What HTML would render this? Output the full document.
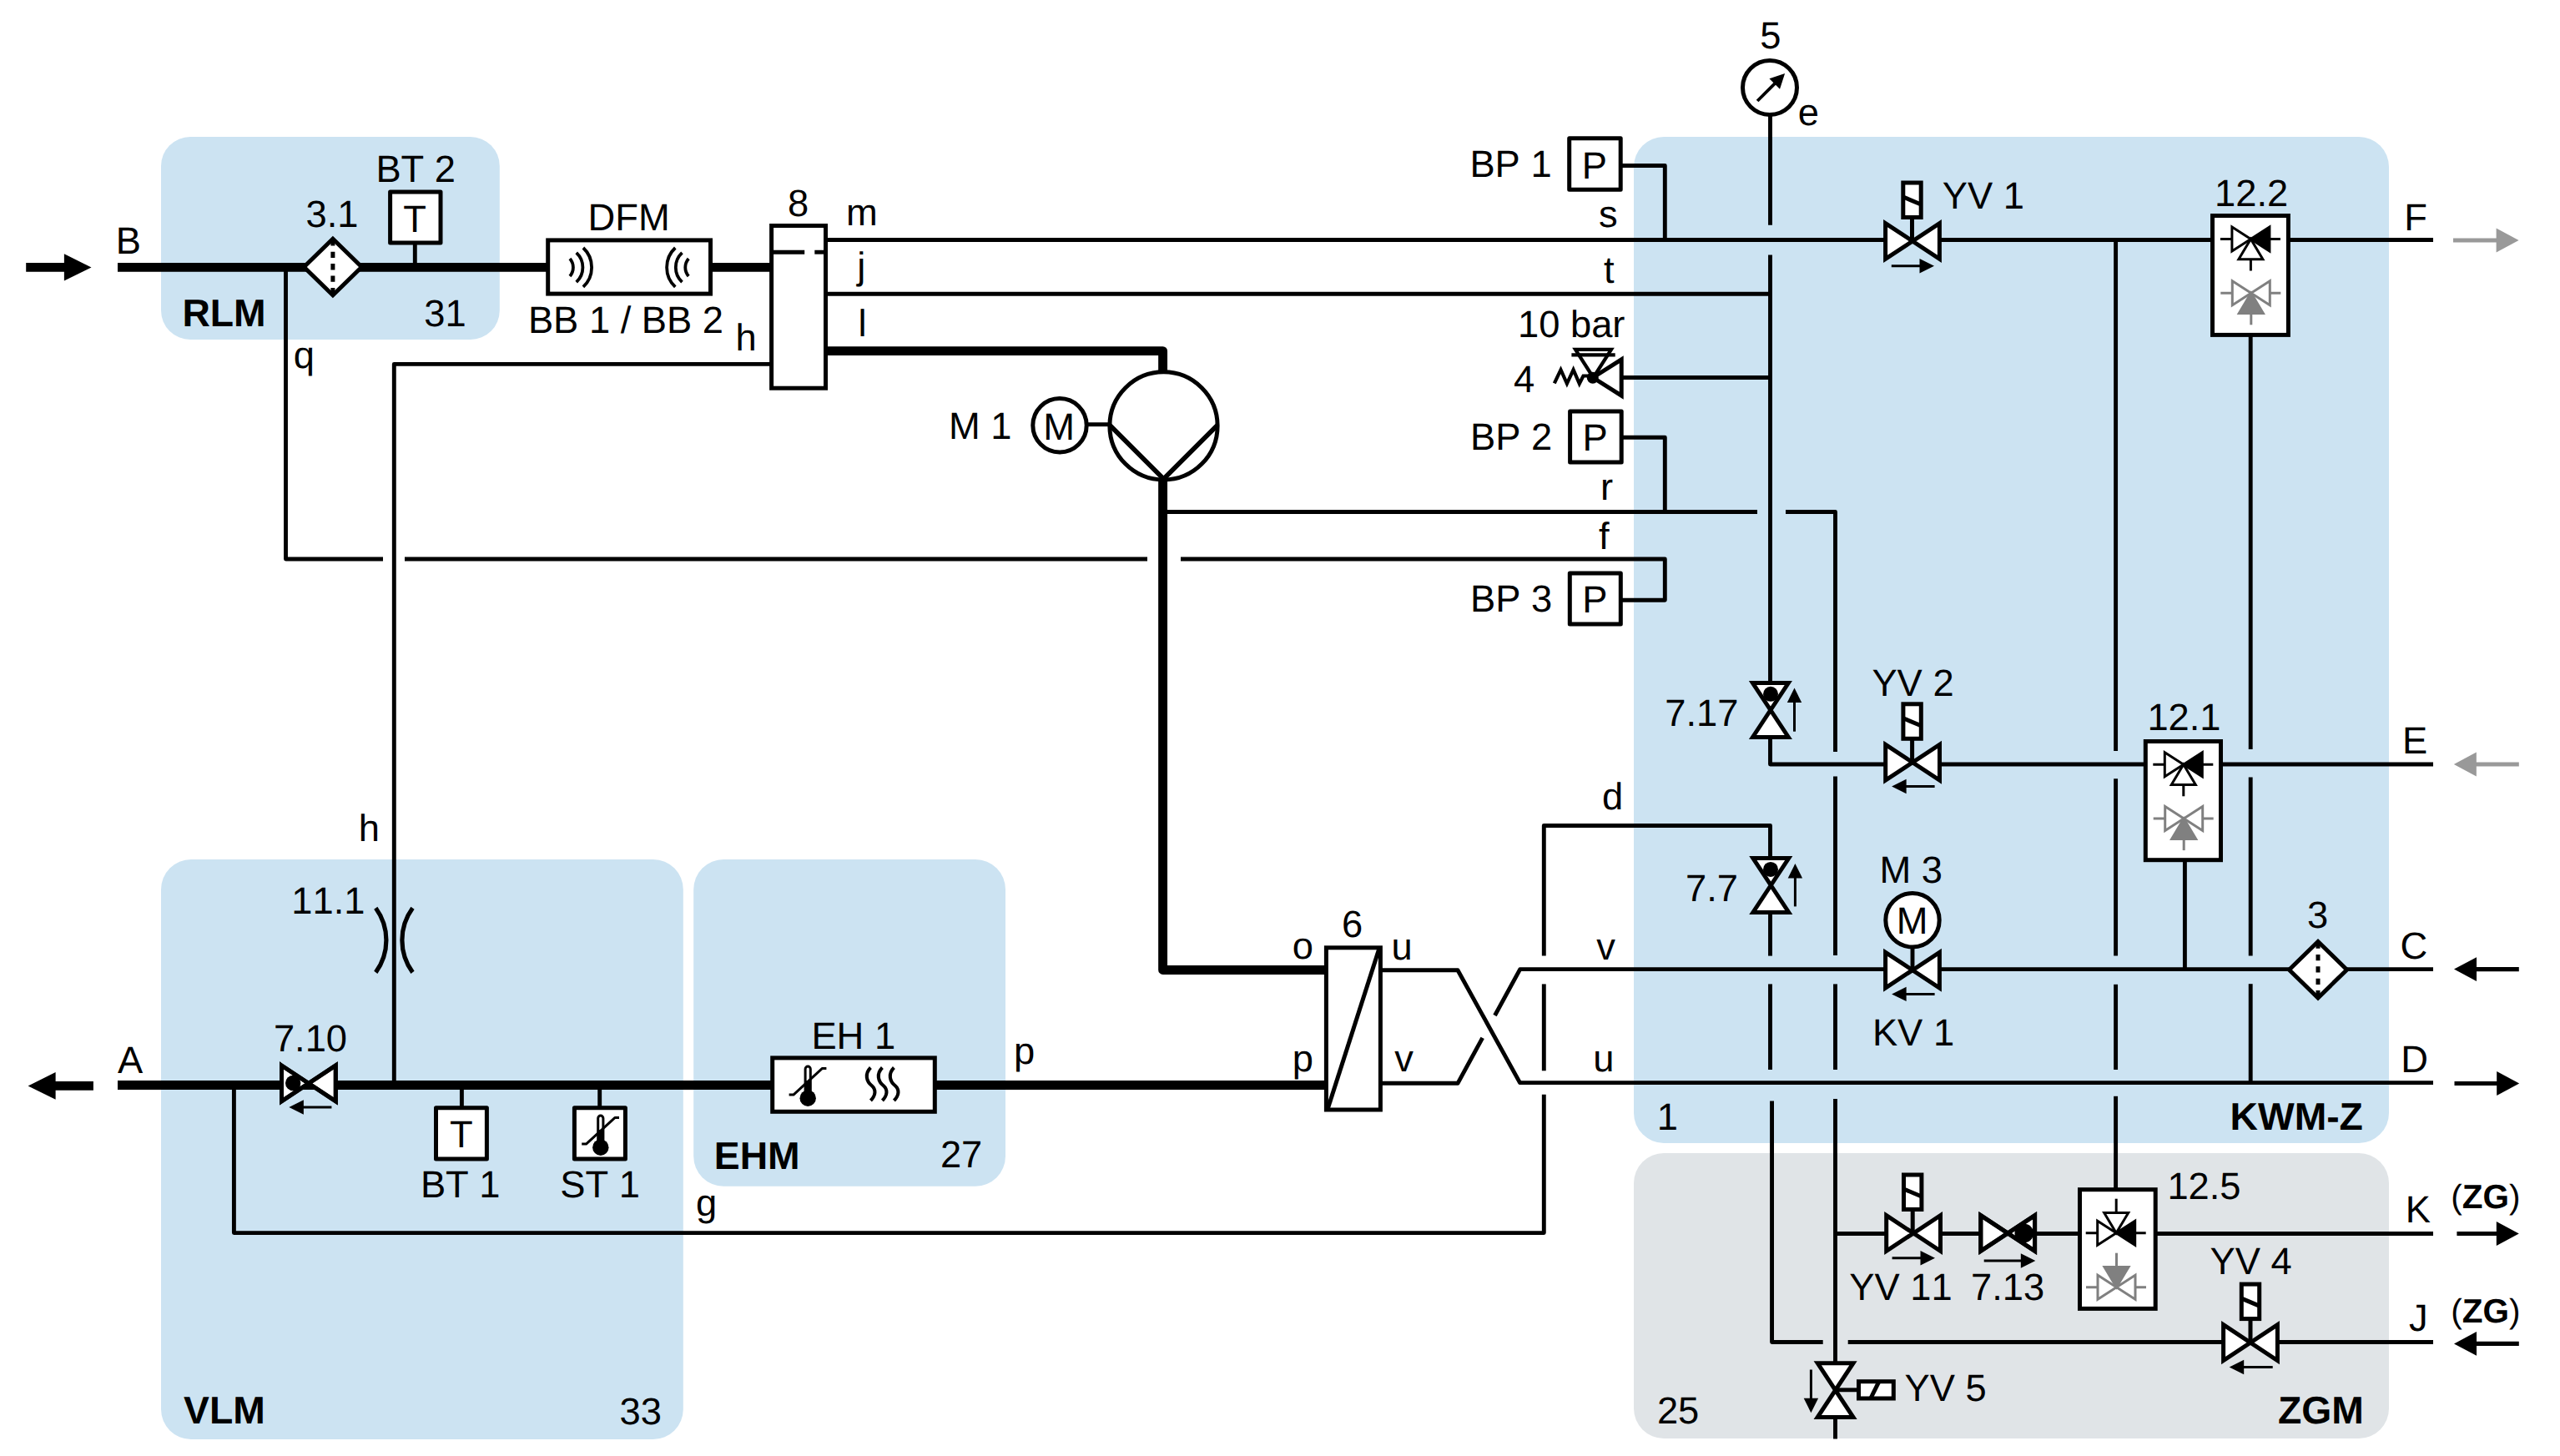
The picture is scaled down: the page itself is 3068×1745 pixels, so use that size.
<!DOCTYPE html>
<html lang="de">
<head>
<meta charset="utf-8">
<title>Hydraulikschema</title>
<style>
html,body{margin:0;padding:0;background:#fff;}
body{width:3068px;height:1745px;overflow:hidden;}
svg{display:block;}
svg text{font-family:"Liberation Sans",sans-serif;fill:#000;font-kerning:none;text-rendering:geometricPrecision;}
</style>
</head>
<body>
<svg width="3068" height="1745" viewBox="0 0 3068 1745">
<rect width="3068" height="1745" fill="#fff"/>
<rect x="193" y="164" width="405.8" height="243" rx="35" ry="35" fill="#cce3f2"/>
<rect x="193" y="1030" width="625.8" height="695" rx="36" ry="36" fill="#cce3f2"/>
<rect x="831.2" y="1030" width="373.8" height="391.8" rx="36" ry="36" fill="#cce3f2"/>
<rect x="1958" y="164" width="905" height="1205.9" rx="36" ry="36" fill="#cce3f2"/>
<rect x="1958" y="1382" width="905" height="342" rx="36" ry="36" fill="#e0e4e7"/>
<path d="M141 320.4 L656 320.4" fill="none" stroke="#000" stroke-width="10.9" stroke-linejoin="round" stroke-linecap="butt"/>
<path d="M852 320.4 L924 320.4" fill="none" stroke="#000" stroke-width="10.9" stroke-linejoin="round" stroke-linecap="butt"/>
<path d="M990 420.6 L1393.6 420.6 L1393.6 446" fill="none" stroke="#000" stroke-width="10.9" stroke-linejoin="round" stroke-linecap="butt"/>
<path d="M1393.6 574 L1393.6 1162.5 L1589 1162.5" fill="none" stroke="#000" stroke-width="10.9" stroke-linejoin="round" stroke-linecap="butt"/>
<path d="M1120 1300.5 L1589 1300.5" fill="none" stroke="#000" stroke-width="10.9" stroke-linejoin="round" stroke-linecap="butt"/>
<path d="M141 1300.5 L925 1300.5" fill="none" stroke="#000" stroke-width="10.9" stroke-linejoin="round" stroke-linecap="butt"/>
<path d="M31.2 320.4 L78 320.4" fill="none" stroke="#000" stroke-width="10.7" stroke-linejoin="round" stroke-linecap="butt"/>
<path d="M109.5 320.4 L76.9 304.2 L76.9 336.6 Z" fill="#000"/>
<path d="M111.9 1301.4 L66 1301.4" fill="none" stroke="#000" stroke-width="10.9" stroke-linejoin="round" stroke-linecap="butt"/>
<path d="M33.6 1301.4 L66.6 1285 L66.6 1317.8 Z" fill="#000"/>
<path d="M342.5 320.4 L342.5 670 L459 670" fill="none" stroke="#000" stroke-width="4.9" stroke-linejoin="round" stroke-linecap="butt"/>
<path d="M485 670 L1375 670" fill="none" stroke="#000" stroke-width="4.9" stroke-linejoin="round" stroke-linecap="butt"/>
<path d="M1415 670 L1995.3 670 L1995.3 719.2 L1943 719.2" fill="none" stroke="#000" stroke-width="4.9" stroke-linejoin="round" stroke-linecap="butt"/>
<path d="M924 436.4 L472.3 436.4 L472.3 1300.5" fill="none" stroke="#000" stroke-width="4.9" stroke-linejoin="round" stroke-linecap="butt"/>
<path d="M990 287.5 L2260 287.5" fill="none" stroke="#000" stroke-width="4.9" stroke-linejoin="round" stroke-linecap="butt"/>
<path d="M2324 287.5 L2651 287.5" fill="none" stroke="#000" stroke-width="4.9" stroke-linejoin="round" stroke-linecap="butt"/>
<path d="M2743 287.5 L2916 287.5" fill="none" stroke="#000" stroke-width="4.9" stroke-linejoin="round" stroke-linecap="butt"/>
<path d="M990 352.3 L2121.5 352.3" fill="none" stroke="#000" stroke-width="4.9" stroke-linejoin="round" stroke-linecap="butt"/>
<path d="M1943 198.5 L1995.3 198.5 L1995.3 287.5" fill="none" stroke="#000" stroke-width="4.9" stroke-linejoin="round" stroke-linecap="butt"/>
<path d="M1943 524.3 L1995.3 524.3 L1995.3 613.5" fill="none" stroke="#000" stroke-width="4.9" stroke-linejoin="round" stroke-linecap="butt"/>
<path d="M2121.5 138 L2121.5 269.7" fill="none" stroke="#000" stroke-width="4.9" stroke-linejoin="round" stroke-linecap="butt"/>
<path d="M2121.5 305.4 L2121.5 820" fill="none" stroke="#000" stroke-width="4.9" stroke-linejoin="round" stroke-linecap="butt"/>
<path d="M1943 452.5 L2121.5 452.5" fill="none" stroke="#000" stroke-width="4.9" stroke-linejoin="round" stroke-linecap="butt"/>
<path d="M1396 613.5 L2106 613.5" fill="none" stroke="#000" stroke-width="4.9" stroke-linejoin="round" stroke-linecap="butt"/>
<path d="M2140 613.5 L2199.5 613.5 L2199.5 901" fill="none" stroke="#000" stroke-width="4.9" stroke-linejoin="round" stroke-linecap="butt"/>
<path d="M2199.5 930.6 L2199.5 1145" fill="none" stroke="#000" stroke-width="4.9" stroke-linejoin="round" stroke-linecap="butt"/>
<path d="M2199.5 1179.4 L2199.5 1282" fill="none" stroke="#000" stroke-width="4.9" stroke-linejoin="round" stroke-linecap="butt"/>
<path d="M2199.5 1317 L2199.5 1636" fill="none" stroke="#000" stroke-width="4.9" stroke-linejoin="round" stroke-linecap="butt"/>
<path d="M2199.5 1697 L2199.5 1724.5" fill="none" stroke="#000" stroke-width="4.9" stroke-linejoin="round" stroke-linecap="butt"/>
<path d="M2121.5 882 L2121.5 916 L2260 916" fill="none" stroke="#000" stroke-width="4.9" stroke-linejoin="round" stroke-linecap="butt"/>
<path d="M2324 916 L2571 916" fill="none" stroke="#000" stroke-width="4.9" stroke-linejoin="round" stroke-linecap="butt"/>
<path d="M2662 916 L2916 916" fill="none" stroke="#000" stroke-width="4.9" stroke-linejoin="round" stroke-linecap="butt"/>
<path d="M2121.5 1030 L2121.5 989.5 L1850.3 989.5 L1850.3 1145.4" fill="none" stroke="#000" stroke-width="4.9" stroke-linejoin="round" stroke-linecap="butt"/>
<path d="M1850.3 1179.4 L1850.3 1283.3" fill="none" stroke="#000" stroke-width="4.9" stroke-linejoin="round" stroke-linecap="butt"/>
<path d="M1850.3 1311.7 L1850.3 1477.6 L280.4 1477.6 L280.4 1300.5" fill="none" stroke="#000" stroke-width="4.9" stroke-linejoin="round" stroke-linecap="butt"/>
<path d="M2121.5 1092 L2121.5 1145.6" fill="none" stroke="#000" stroke-width="4.9" stroke-linejoin="round" stroke-linecap="butt"/>
<path d="M2121.5 1179.4 L2121.5 1282" fill="none" stroke="#000" stroke-width="4.9" stroke-linejoin="round" stroke-linecap="butt"/>
<path d="M2123.55 1319.4 L2123.55 1608.5 L2184.7 1608.5" fill="none" stroke="#000" stroke-width="4.9" stroke-linejoin="round" stroke-linecap="butt"/>
<path d="M2214.7 1608.5 L2665 1608.5" fill="none" stroke="#000" stroke-width="4.9" stroke-linejoin="round" stroke-linecap="butt"/>
<path d="M2729 1608.5 L2916 1608.5" fill="none" stroke="#000" stroke-width="4.9" stroke-linejoin="round" stroke-linecap="butt"/>
<path d="M1655 1162.7 L1747 1162.7 L1821.5 1297.6 L2916 1297.6" fill="none" stroke="#000" stroke-width="4.9" stroke-linejoin="round" stroke-linecap="butt"/>
<path d="M1655 1298.3 L1747 1298.3 L1776.7 1243.9" fill="none" stroke="#000" stroke-width="4.9" stroke-linejoin="round" stroke-linecap="butt"/>
<path d="M1791.5 1217 L1821.7 1161.6 L2260 1161.6" fill="none" stroke="#000" stroke-width="4.9" stroke-linejoin="round" stroke-linecap="butt"/>
<path d="M2324 1161.6 L2744 1161.6" fill="none" stroke="#000" stroke-width="4.9" stroke-linejoin="round" stroke-linecap="butt"/>
<path d="M2812 1161.6 L2916 1161.6" fill="none" stroke="#000" stroke-width="4.9" stroke-linejoin="round" stroke-linecap="butt"/>
<path d="M2199.5 1478.5 L2261 1478.5" fill="none" stroke="#000" stroke-width="4.9" stroke-linejoin="round" stroke-linecap="butt"/>
<path d="M2325 1478.5 L2374 1478.5" fill="none" stroke="#000" stroke-width="4.9" stroke-linejoin="round" stroke-linecap="butt"/>
<path d="M2438 1478.5 L2492 1478.5" fill="none" stroke="#000" stroke-width="4.9" stroke-linejoin="round" stroke-linecap="butt"/>
<path d="M2584 1478.5 L2916 1478.5" fill="none" stroke="#000" stroke-width="4.9" stroke-linejoin="round" stroke-linecap="butt"/>
<path d="M2535.6 287.5 L2535.6 900" fill="none" stroke="#000" stroke-width="4.9" stroke-linejoin="round" stroke-linecap="butt"/>
<path d="M2535.6 933.2 L2535.6 1145.6" fill="none" stroke="#000" stroke-width="4.9" stroke-linejoin="round" stroke-linecap="butt"/>
<path d="M2535.6 1179.8 L2535.6 1282" fill="none" stroke="#000" stroke-width="4.9" stroke-linejoin="round" stroke-linecap="butt"/>
<path d="M2535.6 1313.8 L2535.6 1426" fill="none" stroke="#000" stroke-width="4.9" stroke-linejoin="round" stroke-linecap="butt"/>
<path d="M2697.2 402 L2697.2 898" fill="none" stroke="#000" stroke-width="4.9" stroke-linejoin="round" stroke-linecap="butt"/>
<path d="M2697.2 931.6 L2697.2 1145.6" fill="none" stroke="#000" stroke-width="4.9" stroke-linejoin="round" stroke-linecap="butt"/>
<path d="M2697.2 1179.2 L2697.2 1297.6" fill="none" stroke="#000" stroke-width="4.9" stroke-linejoin="round" stroke-linecap="butt"/>
<path d="M2618.4 1031 L2618.4 1161.6" fill="none" stroke="#000" stroke-width="4.9" stroke-linejoin="round" stroke-linecap="butt"/>
<path d="M2940 288 L2992.6 288" fill="none" stroke="#999999" stroke-width="5.1" stroke-linejoin="round" stroke-linecap="butt"/>
<path d="M3018.6 288 L2991.6 273.6 L2991.6 302.4 Z" fill="#999999"/>
<path d="M3018.8 916 L2966.8 916" fill="none" stroke="#999999" stroke-width="5.1" stroke-linejoin="round" stroke-linecap="butt"/>
<path d="M2940.8 916 L2967.8 901.6 L2967.8 930.4 Z" fill="#999999"/>
<path d="M3018.8 1161.6 L2967 1161.6" fill="none" stroke="#000" stroke-width="5.1" stroke-linejoin="round" stroke-linecap="butt"/>
<path d="M2941 1161.6 L2968 1147.2 L2968 1176 Z" fill="#000"/>
<path d="M2941.5 1298.5 L2993.2 1298.5" fill="none" stroke="#000" stroke-width="5.1" stroke-linejoin="round" stroke-linecap="butt"/>
<path d="M3019.2 1298.5 L2992.2 1284.1 L2992.2 1312.9 Z" fill="#000"/>
<path d="M2944.4 1478.5 L2992.8 1478.5" fill="none" stroke="#000" stroke-width="5.1" stroke-linejoin="round" stroke-linecap="butt"/>
<path d="M3018.8 1478.5 L2991.8 1464.1 L2991.8 1492.9 Z" fill="#000"/>
<path d="M3018.8 1610.4 L2967 1610.4" fill="none" stroke="#000" stroke-width="5.1" stroke-linejoin="round" stroke-linecap="butt"/>
<path d="M2941 1610.4 L2968 1596 L2968 1624.8 Z" fill="#000"/>
<path d="M364.3 320 L398.9 286.2 L433.5 320 L398.9 353.8 Z" fill="#fff" stroke="#000" stroke-width="5" stroke-linejoin="miter" stroke-linecap="butt"/>
<path d="M398.9 287.3 L398.9 352.8" stroke="#000" stroke-width="5" stroke-dasharray="7.3 7.1" fill="none"/>
<path d="M2743.4 1162.2 L2778 1128.4 L2812.6 1162.2 L2778 1196 Z" fill="#fff" stroke="#000" stroke-width="5" stroke-linejoin="miter" stroke-linecap="butt"/>
<path d="M2778 1129.5 L2778 1195" stroke="#000" stroke-width="5" stroke-dasharray="7.3 7.1" fill="none"/>
<path d="M497.3 292 L497.3 320.4" fill="none" stroke="#000" stroke-width="4.9" stroke-linejoin="round" stroke-linecap="butt"/>
<rect x="467.6" y="229.9" width="60.4" height="61.2" fill="#fff" stroke="#000" stroke-width="5" stroke-linejoin="round"/>
<rect x="656.7" y="287.9" width="194.8" height="64.2" fill="#fff" stroke="#000" stroke-width="5" stroke-linejoin="miter"/>
<path d="M682.98 309.9 A16 16 0 0 1 682.98 330.9" fill="none" stroke="#000" stroke-width="3.8"/>
<path d="M690.74 302.77 A24.1 24.1 0 0 1 690.74 338.03" fill="none" stroke="#000" stroke-width="3.8"/>
<path d="M698.92 297 A32 32 0 0 1 698.92 343.8" fill="none" stroke="#000" stroke-width="3.8"/>
<path d="M825.22 309.9 A16 16 0 0 0 825.22 330.9" fill="none" stroke="#000" stroke-width="3.8"/>
<path d="M817.46 302.77 A24.1 24.1 0 0 0 817.46 338.03" fill="none" stroke="#000" stroke-width="3.8"/>
<path d="M809.28 297 A32 32 0 0 0 809.28 343.8" fill="none" stroke="#000" stroke-width="3.8"/>
<rect x="924.6" y="270.5" width="64.9" height="194.7" fill="#fff" stroke="#000" stroke-width="5" stroke-linejoin="miter"/>
<path d="M926 302.2 L964.2 302.2" fill="none" stroke="#000" stroke-width="4.9" stroke-linejoin="round" stroke-linecap="butt"/>
<path d="M976.3 302.2 L988 302.2" fill="none" stroke="#000" stroke-width="4.9" stroke-linejoin="round" stroke-linecap="butt"/>
<circle cx="1394.5" cy="510.4" r="64.6" fill="#fff" stroke="#000" stroke-width="5"/>
<path d="M1329.9 509.4 L1394.5 574 L1459.1 509.4" fill="none" stroke="#000" stroke-width="5.6" stroke-linejoin="miter" stroke-linecap="butt"/>
<path d="M1302 508.7 L1330 508.7" fill="none" stroke="#000" stroke-width="4.9" stroke-linejoin="round" stroke-linecap="butt"/>
<circle cx="1270" cy="509.8" r="32.2" fill="#fff" stroke="#000" stroke-width="5"/>
<rect x="1880.7" y="165.7" width="61.5" height="61.6" fill="#fff" stroke="#000" stroke-width="5" stroke-linejoin="round"/>
<rect x="1881.6" y="493" width="61.6" height="61.1" fill="#fff" stroke="#000" stroke-width="5" stroke-linejoin="round"/>
<rect x="1881.3" y="686.9" width="61" height="61.2" fill="#fff" stroke="#000" stroke-width="5" stroke-linejoin="round"/>
<circle cx="2121" cy="105" r="32.5" fill="#fff" stroke="#000" stroke-width="5"/>
<path d="M2106.1 121 L2128 99.1" fill="none" stroke="#000" stroke-width="3.8" stroke-linejoin="round" stroke-linecap="butt"/>
<path d="M2139.1 88.1 L2133.02 106.77 L2120.43 94.18 Z" fill="#000"/>
<path d="M1943.2 430.9 L1943.2 474.1 L1909.1 452.5 Z" fill="#fff" stroke="#000" stroke-width="5" stroke-linejoin="miter" stroke-linecap="butt"/>
<path d="M1888 418.8 L1931 418.8 L1909.5 452.5 Z" fill="none" stroke="#000" stroke-width="4.2" stroke-linejoin="miter" stroke-linecap="butt"/>
<path d="M1883.4 425.4 L1935.7 425.4" fill="none" stroke="#000" stroke-width="4.2" stroke-linejoin="round" stroke-linecap="butt"/>
<circle cx="1908.8" cy="452.7" r="7" fill="#000"/>
<path d="M1862.8 459.3 L1870.5 443.2 L1877.9 459.8 L1885.6 443.2 L1892.8 459.8 L1897.5 450.5 L1906 450.5" fill="none" stroke="#000" stroke-width="4.2" stroke-linejoin="miter" stroke-linecap="butt"/>
<path d="M2259.6 267.6 L2324.4 310.4 L2324.4 267.6 L2259.6 310.4 Z" fill="#fff" stroke="#000" stroke-width="5" stroke-linejoin="miter" stroke-linecap="butt"/>
<path d="M2291.5 289 L2291.5 262" fill="none" stroke="#000" stroke-width="5" stroke-linejoin="round" stroke-linecap="butt"/>
<rect x="2280.8" y="219" width="21.4" height="41.5" fill="#fff" stroke="#000" stroke-width="5" stroke-linejoin="miter"/>
<path d="M2280.8 236 L2302.2 245" fill="none" stroke="#000" stroke-width="5" stroke-linejoin="round" stroke-linecap="butt"/>
<path d="M2266.8 318.8 L2301.5 318.8" fill="none" stroke="#000" stroke-width="3" stroke-linejoin="round" stroke-linecap="butt"/>
<path d="M2318 318.8 L2300.5 310.1 L2300.5 327.5 Z" fill="#000"/>
<path d="M2259.7 892.4 L2324.5 935.2 L2324.5 892.4 L2259.7 935.2 Z" fill="#fff" stroke="#000" stroke-width="5" stroke-linejoin="miter" stroke-linecap="butt"/>
<path d="M2291.6 913.8 L2291.6 886.8" fill="none" stroke="#000" stroke-width="5" stroke-linejoin="round" stroke-linecap="butt"/>
<rect x="2280.9" y="843.8" width="21.4" height="41.5" fill="#fff" stroke="#000" stroke-width="5" stroke-linejoin="miter"/>
<path d="M2280.9 860.8 L2302.3 869.8" fill="none" stroke="#000" stroke-width="5" stroke-linejoin="round" stroke-linecap="butt"/>
<path d="M2318.6 942.5 L2283.6 942.5" fill="none" stroke="#000" stroke-width="3" stroke-linejoin="round" stroke-linecap="butt"/>
<path d="M2267.1 942.5 L2284.6 933.8 L2284.6 951.2 Z" fill="#000"/>
<path d="M2100.5 818.6 L2143.3 883.4 L2100.5 883.4 L2143.3 818.6 Z" fill="#fff" stroke="#000" stroke-width="5" stroke-linejoin="miter" stroke-linecap="butt"/>
<circle cx="2122" cy="831.8" r="9" fill="#000"/>
<path d="M2150.5 876.7 L2150.5 841.1" fill="none" stroke="#000" stroke-width="3" stroke-linejoin="round" stroke-linecap="butt"/>
<path d="M2150.5 824.6 L2141.8 842.1 L2159.2 842.1 Z" fill="#000"/>
<path d="M2100.9 1028.6 L2143.7 1093.4 L2100.9 1093.4 L2143.7 1028.6 Z" fill="#fff" stroke="#000" stroke-width="5" stroke-linejoin="miter" stroke-linecap="butt"/>
<circle cx="2122" cy="1041.9" r="9" fill="#000"/>
<path d="M2151.4 1086.4 L2151.4 1051.4" fill="none" stroke="#000" stroke-width="3" stroke-linejoin="round" stroke-linecap="butt"/>
<path d="M2151.4 1034.9 L2142.7 1052.4 L2160.1 1052.4 Z" fill="#000"/>
<path d="M2292 1135 L2292 1162.7" fill="none" stroke="#000" stroke-width="4.9" stroke-linejoin="round" stroke-linecap="butt"/>
<path d="M2259.6 1141.3 L2324.4 1184.1 L2324.4 1141.3 L2259.6 1184.1 Z" fill="#fff" stroke="#000" stroke-width="5" stroke-linejoin="miter" stroke-linecap="butt"/>
<path d="M2318.6 1191.4 L2283.6 1191.4" fill="none" stroke="#000" stroke-width="3" stroke-linejoin="round" stroke-linecap="butt"/>
<path d="M2267.1 1191.4 L2284.6 1182.7 L2284.6 1200.1 Z" fill="#000"/>
<circle cx="2292" cy="1102.8" r="32.2" fill="#fff" stroke="#000" stroke-width="5"/>
<path d="M2260.7 1456.6 L2325.5 1499.4 L2325.5 1456.6 L2260.7 1499.4 Z" fill="#fff" stroke="#000" stroke-width="5" stroke-linejoin="miter" stroke-linecap="butt"/>
<path d="M2292.2 1478 L2292.2 1451" fill="none" stroke="#000" stroke-width="5" stroke-linejoin="round" stroke-linecap="butt"/>
<rect x="2281.5" y="1408" width="21.4" height="41.5" fill="#fff" stroke="#000" stroke-width="5" stroke-linejoin="miter"/>
<path d="M2281.5 1425 L2302.9 1434" fill="none" stroke="#000" stroke-width="5" stroke-linejoin="round" stroke-linecap="butt"/>
<path d="M2267.6 1507.7 L2302.5 1507.7" fill="none" stroke="#000" stroke-width="3" stroke-linejoin="round" stroke-linecap="butt"/>
<path d="M2319 1507.7 L2301.5 1499 L2301.5 1516.4 Z" fill="#000"/>
<path d="M2373.8 1456.6 L2438.6 1499.4 L2438.6 1456.6 L2373.8 1499.4 Z" fill="#fff" stroke="#000" stroke-width="5" stroke-linejoin="miter" stroke-linecap="butt"/>
<circle cx="2425.8" cy="1478" r="11.3" fill="#000"/>
<path d="M2373.8 1456.6 L2438.6 1499.4 L2438.6 1456.6 L2373.8 1499.4 Z" fill="none" stroke="#000" stroke-width="5" stroke-linejoin="miter" stroke-linecap="butt"/>
<path d="M2377.7 1511 L2422.8 1511" fill="none" stroke="#000" stroke-width="3" stroke-linejoin="round" stroke-linecap="butt"/>
<path d="M2439.3 1511 L2421.8 1502.3 L2421.8 1519.7 Z" fill="#000"/>
<path d="M2664.6 1587.7 L2729.4 1630.5 L2729.4 1587.7 L2664.6 1630.5 Z" fill="#fff" stroke="#000" stroke-width="5" stroke-linejoin="miter" stroke-linecap="butt"/>
<path d="M2697 1609.1 L2697 1582.1" fill="none" stroke="#000" stroke-width="5" stroke-linejoin="round" stroke-linecap="butt"/>
<rect x="2686.3" y="1539.1" width="21.4" height="41.5" fill="#fff" stroke="#000" stroke-width="5" stroke-linejoin="miter"/>
<path d="M2686.3 1556.1 L2707.7 1565.1" fill="none" stroke="#000" stroke-width="5" stroke-linejoin="round" stroke-linecap="butt"/>
<path d="M2723.7 1638.5 L2688.2 1638.5" fill="none" stroke="#000" stroke-width="3" stroke-linejoin="round" stroke-linecap="butt"/>
<path d="M2671.7 1638.5 L2689.2 1629.8 L2689.2 1647.2 Z" fill="#000"/>
<path d="M2199.6 1665.8 L2227 1665.8" fill="none" stroke="#000" stroke-width="4.9" stroke-linejoin="round" stroke-linecap="butt"/>
<path d="M2178.2 1633.7 L2221 1698.5 L2178.2 1698.5 L2221 1633.7 Z" fill="#fff" stroke="#000" stroke-width="5" stroke-linejoin="miter" stroke-linecap="butt"/>
<rect x="2227.5" y="1655.7" width="41.8" height="20.3" fill="#fff" stroke="#000" stroke-width="5" stroke-linejoin="miter"/>
<path d="M2241.8 1676 L2251.8 1655.8" fill="none" stroke="#000" stroke-width="5" stroke-linejoin="round" stroke-linecap="butt"/>
<path d="M2170.4 1641.5 L2170.4 1676.7" fill="none" stroke="#000" stroke-width="3" stroke-linejoin="round" stroke-linecap="butt"/>
<path d="M2170.4 1693.2 L2161.7 1675.7 L2179.1 1675.7 Z" fill="#000"/>
<path d="M337.5 1277 L402.3 1319.8 L402.3 1277 L337.5 1319.8 Z" fill="#fff" stroke="#000" stroke-width="5" stroke-linejoin="miter" stroke-linecap="butt"/>
<circle cx="351.2" cy="1298" r="9.2" fill="#000"/>
<path d="M337.5 1277 L402.3 1319.8 L402.3 1277 L337.5 1319.8 Z" fill="none" stroke="#000" stroke-width="5" stroke-linejoin="miter" stroke-linecap="butt"/>
<path d="M397.4 1327 L362.9 1327" fill="none" stroke="#000" stroke-width="3" stroke-linejoin="round" stroke-linecap="butt"/>
<path d="M346.4 1327 L363.9 1318.3 L363.9 1335.7 Z" fill="#000"/>
<path d="M553.4 1300.5 L553.4 1327" fill="none" stroke="#000" stroke-width="4.9" stroke-linejoin="round" stroke-linecap="butt"/>
<rect x="522.5" y="1327.8" width="60.9" height="61.3" fill="#fff" stroke="#000" stroke-width="5" stroke-linejoin="round"/>
<path d="M718.7 1300.5 L718.7 1327" fill="none" stroke="#000" stroke-width="4.9" stroke-linejoin="round" stroke-linecap="butt"/>
<rect x="688.4" y="1327.8" width="61" height="61.3" fill="#fff" stroke="#000" stroke-width="5" stroke-linejoin="round"/>
<path d="M716.7 1371.2 L716.7 1340.2 A3.1 3.1 0 0 1 722.9 1340.2 L722.9 1371.2" fill="#fff" stroke="#000" stroke-width="3"/>
<rect x="716.7" y="1354.2" width="6.2" height="19" fill="#000"/>
<circle cx="719.8" cy="1375.2" r="9.7" fill="#000"/>
<path d="M697.2 1371.1 L702.5 1371.1 L737.1 1339.4 L742 1339.4" fill="none" stroke="#000" stroke-width="3" stroke-linejoin="round" stroke-linecap="butt"/>
<rect x="925.7" y="1267.9" width="194.6" height="64.4" fill="#fff" stroke="#000" stroke-width="5" stroke-linejoin="miter"/>
<path d="M965.1 1312.2 L965.1 1281.2 A3.1 3.1 0 0 1 971.3 1281.2 L971.3 1312.2" fill="#fff" stroke="#000" stroke-width="3"/>
<rect x="965.1" y="1295.2" width="6.2" height="19" fill="#000"/>
<circle cx="968.2" cy="1316.2" r="9.7" fill="#000"/>
<path d="M945.6 1312.1 L950.9 1312.1 L985.5 1280.4 L990.4 1280.4" fill="none" stroke="#000" stroke-width="3" stroke-linejoin="round" stroke-linecap="butt"/>
<path d="M1043.4 1279.5 C1035.9 1287 1038.4 1296 1044.6 1301 C1050.4 1306 1049.4 1313 1043.4 1319" fill="none" stroke="#000" stroke-width="4.1"/>
<path d="M1057.4 1279.5 C1049.9 1287 1052.4 1296 1058.6 1301 C1064.4 1306 1063.4 1313 1057.4 1319" fill="none" stroke="#000" stroke-width="4.1"/>
<path d="M1071.4 1279.5 C1063.9 1287 1066.4 1296 1072.6 1301 C1078.4 1306 1077.4 1313 1071.4 1319" fill="none" stroke="#000" stroke-width="4.1"/>
<path d="M450.3 1088.2 A65.4 65.4 0 0 1 450.3 1165.4" fill="none" stroke="#000" stroke-width="5.2"/>
<path d="M494.5 1088.2 A65.4 65.4 0 0 0 494.5 1165.4" fill="none" stroke="#000" stroke-width="5.2"/>
<rect x="1589.4" y="1135.8" width="65" height="194.2" fill="#fff" stroke="#000" stroke-width="5" stroke-linejoin="miter"/>
<path d="M1591.5 1328 L1652.5 1138" fill="none" stroke="#000" stroke-width="5" stroke-linejoin="round" stroke-linecap="butt"/>
<rect x="2651.5" y="258.5" width="90.9" height="142.9" fill="#fff" stroke="#000" stroke-width="5" stroke-linejoin="miter"/>
<path d="M2660.9 286.5 L2732.9 286.5" fill="none" stroke="#000" stroke-width="3" stroke-linejoin="round" stroke-linecap="butt"/>
<path d="M2674.9 272 L2674.9 301 L2697.4 286.5 Z" fill="#fff" stroke="#000" stroke-width="3" stroke-linejoin="miter" stroke-linecap="butt"/>
<path d="M2682.9 310.8 L2711.9 310.8 L2697.4 286.5 Z" fill="#fff" stroke="#000" stroke-width="3" stroke-linejoin="miter" stroke-linecap="butt"/>
<path d="M2697.4 311.8 L2697.4 324.5" fill="none" stroke="#000" stroke-width="3" stroke-linejoin="round" stroke-linecap="butt"/>
<path d="M2719.9 272 L2719.9 301 L2697.4 286.5 Z" fill="#000" stroke="#000" stroke-width="3" stroke-linejoin="miter" stroke-linecap="butt"/>
<path d="M2661.3 351.3 L2733.3 351.3" fill="none" stroke="#808080" stroke-width="3" stroke-linejoin="round" stroke-linecap="butt"/>
<path d="M2675.3 336.8 L2675.3 365.8 L2697.8 351.3 Z" fill="#fff" stroke="#808080" stroke-width="3" stroke-linejoin="miter" stroke-linecap="butt"/>
<path d="M2683.3 375.6 L2712.3 375.6 L2697.8 351.3 Z" fill="#808080" stroke="#808080" stroke-width="3" stroke-linejoin="miter" stroke-linecap="butt"/>
<path d="M2697.8 376.6 L2697.8 389.3" fill="none" stroke="#808080" stroke-width="3" stroke-linejoin="round" stroke-linecap="butt"/>
<path d="M2720.3 336.8 L2720.3 365.8 L2697.8 351.3 Z" fill="#fff" stroke="#808080" stroke-width="3" stroke-linejoin="miter" stroke-linecap="butt"/>
<rect x="2571.3" y="888.5" width="90.2" height="142.2" fill="#fff" stroke="#000" stroke-width="5" stroke-linejoin="miter"/>
<path d="M2580.3 916.3 L2652.3 916.3" fill="none" stroke="#000" stroke-width="3" stroke-linejoin="round" stroke-linecap="butt"/>
<path d="M2594.3 901.8 L2594.3 930.8 L2616.8 916.3 Z" fill="#fff" stroke="#000" stroke-width="3" stroke-linejoin="miter" stroke-linecap="butt"/>
<path d="M2602.3 940.6 L2631.3 940.6 L2616.8 916.3 Z" fill="#fff" stroke="#000" stroke-width="3" stroke-linejoin="miter" stroke-linecap="butt"/>
<path d="M2616.8 941.6 L2616.8 954.3" fill="none" stroke="#000" stroke-width="3" stroke-linejoin="round" stroke-linecap="butt"/>
<path d="M2639.3 901.8 L2639.3 930.8 L2616.8 916.3 Z" fill="#000" stroke="#000" stroke-width="3" stroke-linejoin="miter" stroke-linecap="butt"/>
<path d="M2580.7 981.1 L2652.7 981.1" fill="none" stroke="#808080" stroke-width="3" stroke-linejoin="round" stroke-linecap="butt"/>
<path d="M2594.7 966.6 L2594.7 995.6 L2617.2 981.1 Z" fill="#fff" stroke="#808080" stroke-width="3" stroke-linejoin="miter" stroke-linecap="butt"/>
<path d="M2602.7 1005.4 L2631.7 1005.4 L2617.2 981.1 Z" fill="#808080" stroke="#808080" stroke-width="3" stroke-linejoin="miter" stroke-linecap="butt"/>
<path d="M2617.2 1006.4 L2617.2 1019.1" fill="none" stroke="#808080" stroke-width="3" stroke-linejoin="round" stroke-linecap="butt"/>
<path d="M2639.7 966.6 L2639.7 995.6 L2617.2 981.1 Z" fill="#fff" stroke="#808080" stroke-width="3" stroke-linejoin="miter" stroke-linecap="butt"/>
<rect x="2492.5" y="1425.7" width="90.7" height="142.7" fill="#fff" stroke="#000" stroke-width="5" stroke-linejoin="miter"/>
<path d="M2499.7 1477.7 L2571.7 1477.7" fill="none" stroke="#000" stroke-width="3" stroke-linejoin="round" stroke-linecap="butt"/>
<path d="M2513.7 1463.2 L2513.7 1492.2 L2536.2 1477.7 Z" fill="#fff" stroke="#000" stroke-width="3" stroke-linejoin="miter" stroke-linecap="butt"/>
<path d="M2521.7 1453.4 L2550.7 1453.4 L2536.2 1477.7 Z" fill="#fff" stroke="#000" stroke-width="3" stroke-linejoin="miter" stroke-linecap="butt"/>
<path d="M2536.2 1452.4 L2536.2 1436.7" fill="none" stroke="#000" stroke-width="3" stroke-linejoin="round" stroke-linecap="butt"/>
<path d="M2558.7 1463.2 L2558.7 1492.2 L2536.2 1477.7 Z" fill="#000" stroke="#000" stroke-width="3" stroke-linejoin="miter" stroke-linecap="butt"/>
<path d="M2500 1542.7 L2572 1542.7" fill="none" stroke="#808080" stroke-width="3" stroke-linejoin="round" stroke-linecap="butt"/>
<path d="M2514 1528.2 L2514 1557.2 L2536.5 1542.7 Z" fill="#fff" stroke="#808080" stroke-width="3" stroke-linejoin="miter" stroke-linecap="butt"/>
<path d="M2522 1518.4 L2551 1518.4 L2536.5 1542.7 Z" fill="#808080" stroke="#808080" stroke-width="3" stroke-linejoin="miter" stroke-linecap="butt"/>
<path d="M2536.5 1517.4 L2536.5 1501.7" fill="none" stroke="#808080" stroke-width="3" stroke-linejoin="round" stroke-linecap="butt"/>
<path d="M2559 1528.2 L2559 1557.2 L2536.5 1542.7 Z" fill="#fff" stroke="#808080" stroke-width="3" stroke-linejoin="miter" stroke-linecap="butt"/>
<text x="138.8" y="304.4" font-size="45.3">B</text>
<text x="366.6" y="271.5" font-size="45.3">3.1</text>
<text x="450.4" y="217.8" font-size="45.3">BT 2</text>
<text x="483.2" y="278" font-size="45.3">T</text>
<text x="218.4" y="390.6" font-size="46.3" font-weight="bold">RLM</text>
<text x="508.3" y="390.9" font-size="45.3">31</text>
<text x="704.6" y="276.3" font-size="45.3">DFM</text>
<text x="632.9" y="399.1" font-size="45.3">BB 1 / BB 2</text>
<text x="351.75" y="440.5" font-size="45.3">q</text>
<text x="944" y="259.1" font-size="45.3">8</text>
<text x="1014" y="269.7" font-size="45.3">m</text>
<text x="1027.3" y="333.5" font-size="45.3">j</text>
<text x="1028.4" y="402.8" font-size="45.3">l</text>
<text x="881.5" y="419.5" font-size="45.3">h</text>
<text x="1137" y="525.6" font-size="45.3">M 1</text>
<text x="1250.3" y="526.8" font-size="45.3">M</text>
<text x="1761.4" y="211.5" font-size="45.3">BP 1</text>
<text x="1895.7" y="213.5" font-size="45.3">P</text>
<text x="1915.9" y="272.3" font-size="45.3">s</text>
<text x="1921.9" y="338.5" font-size="45.3">t</text>
<text x="1819" y="403.8" font-size="45.3">10 bar</text>
<text x="1814" y="469.9" font-size="45.3">4</text>
<text x="1762.1" y="538.6" font-size="45.3">BP 2</text>
<text x="1896.6" y="540.3" font-size="45.3">P</text>
<text x="1918.1" y="598.7" font-size="45.3">r</text>
<text x="1916" y="657.7" font-size="45.3">f</text>
<text x="1762" y="733" font-size="45.3">BP 3</text>
<text x="1896.3" y="733.6" font-size="45.3">P</text>
<text x="2109.3" y="58.4" font-size="45.3">5</text>
<text x="2154.8" y="150.2" font-size="45.3">e</text>
<text x="2327.8" y="249.6" font-size="45.3">YV 1</text>
<text x="2654" y="247" font-size="45.3">12.2</text>
<text x="2881.2" y="275.5" font-size="45.3">F</text>
<text x="1995.2" y="869.6" font-size="45.3">7.17</text>
<text x="2243.4" y="833.6" font-size="45.3">YV 2</text>
<text x="2573.4" y="874.7" font-size="45.3">12.1</text>
<text x="2879.1" y="902.8" font-size="45.3">E</text>
<text x="1920" y="970" font-size="45.3">d</text>
<text x="2020.1" y="1079.8" font-size="45.3">7.7</text>
<text x="2252.4" y="1058.4" font-size="45.3">M 3</text>
<text x="2272.7" y="1119.3" font-size="45.3">M</text>
<text x="2243.9" y="1252.6" font-size="45.3">KV 1</text>
<text x="2764.9" y="1111.9" font-size="45.3">3</text>
<text x="2876.5" y="1149.4" font-size="45.3">C</text>
<text x="2877.3" y="1285" font-size="45.3">D</text>
<text x="1548.8" y="1149.2" font-size="45.3">o</text>
<text x="1608" y="1122.7" font-size="45.3">6</text>
<text x="1667.6" y="1149.6" font-size="45.3">u</text>
<text x="1548.7" y="1283.8" font-size="45.3">p</text>
<text x="1671.3" y="1283.5" font-size="45.3">v</text>
<text x="1913.3" y="1149.6" font-size="45.3">v</text>
<text x="1909.3" y="1283.5" font-size="45.3">u</text>
<text x="1214.9" y="1275" font-size="45.3">p</text>
<text x="972.4" y="1256.9" font-size="45.3">EH 1</text>
<text x="855.75" y="1400.8" font-size="46.3" font-weight="bold">EHM</text>
<text x="1126.9" y="1399.4" font-size="45.3">27</text>
<text x="833.9" y="1457" font-size="45.3">g</text>
<text x="141.1" y="1285.9" font-size="45.3">A</text>
<text x="327.9" y="1260.4" font-size="45.3">7.10</text>
<text x="539" y="1374.7" font-size="45.3">T</text>
<text x="503.9" y="1434.7" font-size="45.3">BT 1</text>
<text x="671.2" y="1434.7" font-size="45.3">ST 1</text>
<text x="220" y="1706.2" font-size="46.3" font-weight="bold">VLM</text>
<text x="742.5" y="1706.6" font-size="45.3">33</text>
<text x="429.7" y="1008.4" font-size="45.3">h</text>
<text x="349.3" y="1095" font-size="45.3">11.1</text>
<text x="1985.75" y="1353.9" font-size="45.3">1</text>
<text x="1985.9" y="1705.7" font-size="45.3">25</text>
<text x="2672.5" y="1353.7" font-size="46.3" font-weight="bold">KWM-Z</text>
<text x="2729.9" y="1706" font-size="46.3" font-weight="bold">ZGM</text>
<text x="2597.4" y="1436.7" font-size="45.3">12.5</text>
<text x="2216.3" y="1558" font-size="45.3">YV 11</text>
<text x="2362" y="1558" font-size="45.3">7.13</text>
<text x="2648.6" y="1526.7" font-size="45.3">YV 4</text>
<text x="2282.6" y="1678.5" font-size="45.3">YV 5</text>
<text x="2882.7" y="1465.4" font-size="45.3">K</text>
<text x="2887" y="1595.2" font-size="45.3">J</text>
<text x="2937.3" y="1447.7" font-size="40.5">(<tspan font-weight="bold">ZG</tspan>)</text>
<text x="2937.3" y="1585.2" font-size="40.5">(<tspan font-weight="bold">ZG</tspan>)</text>
</svg>
</body>
</html>
